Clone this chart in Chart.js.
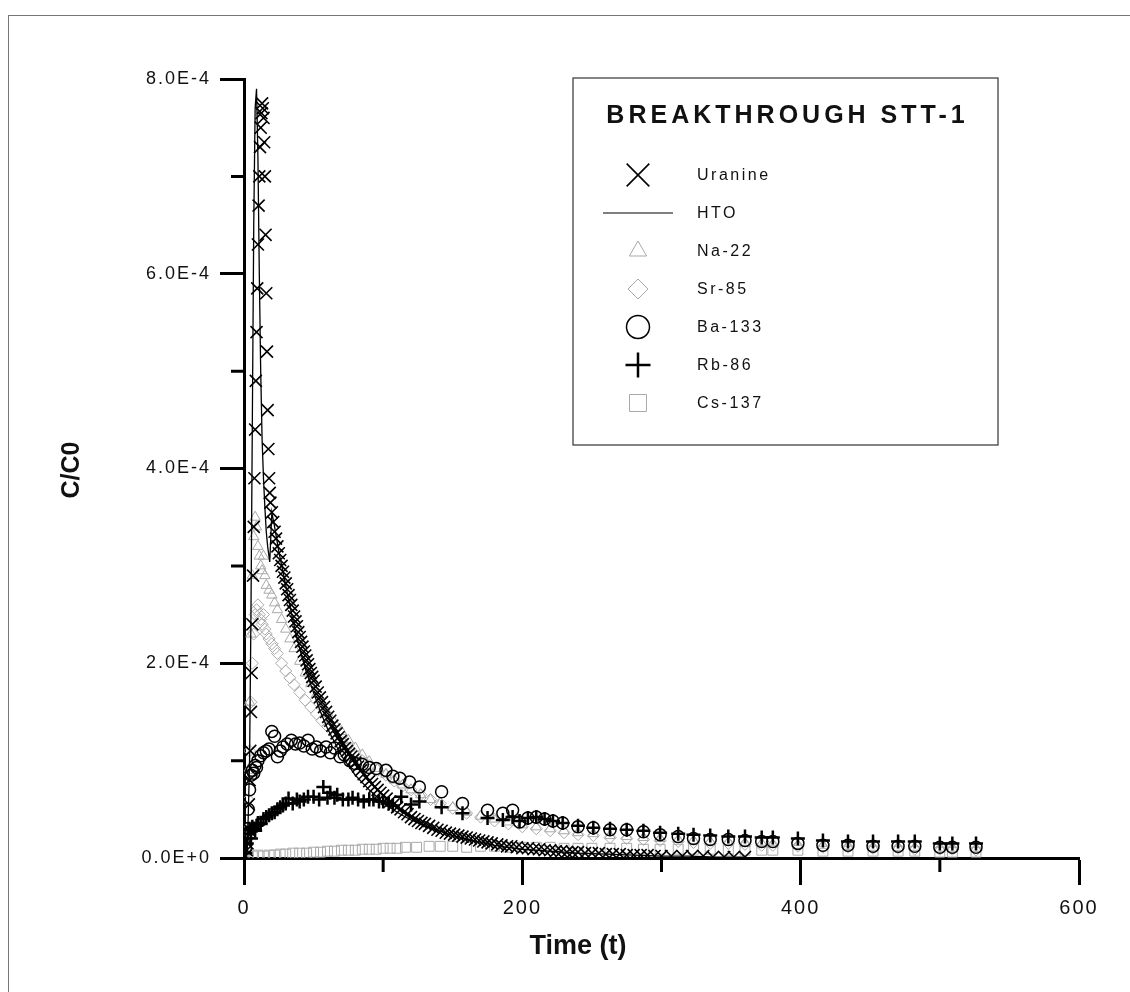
<!DOCTYPE html>
<html>
<head>
<meta charset="utf-8">
<title>Breakthrough STT-1</title>
<script src="https://cdn.jsdelivr.net/npm/chart.js@4.4.1/dist/chart.umd.min.js"></script>
<style>
  html, body { margin: 0; padding: 0; background: #fff; }
  #wrap { position: relative; width: 1130px; height: 992px; overflow: hidden; }
  #frame { position: absolute; left: 8px; top: 15px; width: 1140px; height: 1000px; border-top: 1px solid #777; border-left: 1px solid #777; }
  .axis-title { position: absolute; font-family: 'Liberation Sans', Arial, sans-serif; font-weight: bold; color: #111; white-space: nowrap; }
  #ytitle { left: 70px; top: 470px; font-size: 25px; transform: translate(-50%, -50%) rotate(-90deg); }
  #xtitle { left: 578px; top: 945px; font-size: 27px; transform: translate(-50%, -50%); }
</style>
</head>
<body>
<div id="wrap">
  <div id="frame"></div>
  <canvas id="stt1"></canvas>
  <div class="axis-title" id="ytitle">C/C0</div>
  <div class="axis-title" id="xtitle">Time (t)</div>
</div>
<script>
  // values are C/C0 in units of 1E-4, time in the plot's t units
  var uranine = [[1,0.02],[2,0.08],[2.5,0.15],[3,0.3],[3.5,0.55],[4,0.8],[4.5,1.1],[5,1.5],[5.5,1.9],[6,2.4],[6.5,2.9],[7,3.4],[7.5,3.9],[8,4.4],[8.5,4.9],[9,5.4],[9.5,5.85],[10,6.3],[10.5,6.7],[11,7.0],[11.5,7.3],[12,7.5],[12.5,7.65],[13,7.75],[13.5,7.7],[14,7.6],[14.5,7.35],[15,7.0],[15.5,6.4],[16,5.8],[16.5,5.2],[17,4.6],[17.5,4.2],[18,3.9],[18.5,3.75],[19,3.65],[20,3.55],[21,3.45],[22,3.35],[23,3.28],[24,3.2],[25,3.13],[26,3.06],[27,3.0],[28,2.94],[29,2.88],[30,2.82],[31,2.76],[32,2.7],[33,2.65],[34,2.6],[35,2.54],[36,2.48],[37,2.43],[38,2.38],[39,2.32],[40,2.27],[41,2.22],[42,2.17],[43,2.12],[44,2.08],[45,2.03],[46,1.99],[47,1.94],[48,1.9],[49,1.86],[50,1.82],[51.5,1.76],[53,1.7],[54.5,1.65],[56,1.6],[57.5,1.55],[59,1.5],[60.5,1.45],[62,1.41],[63.5,1.36],[65,1.32],[66.5,1.28],[68,1.24],[69.5,1.2],[71,1.17],[72.5,1.13],[74,1.1],[75.5,1.07],[77,1.04],[78.5,1.01],[80,0.98],[82,0.94],[84,0.9],[86,0.86],[88,0.83],[90,0.79],[92,0.76],[94,0.73],[96,0.7],[98,0.67],[100,0.64],[102.5,0.61],[105,0.58],[107.5,0.55],[110,0.52],[112.5,0.5],[115,0.47],[117.5,0.45],[120,0.42],[122.5,0.4],[125,0.38],[127.5,0.36],[130,0.35],[133,0.33],[136,0.31],[139,0.29],[142,0.28],[145,0.26],[148,0.25],[151,0.24],[154,0.23],[157,0.22],[160,0.21],[163,0.2],[166,0.19],[169,0.18],[172,0.17],[175,0.16],[178,0.15],[182,0.14],[185,0.13],[189,0.12],[192,0.12],[196,0.11],[200,0.1],[204,0.1],[208,0.09],[212,0.09],[216,0.08],[220,0.08],[224,0.07],[228,0.07],[232,0.06],[236,0.06],[240,0.06],[245,0.05],[250,0.05],[255,0.05],[260,0.04],[265,0.04],[270,0.04],[275,0.03],[280,0.03],[285,0.03],[290,0.03],[295,0.02],[300,0.02],[307,0.02],[315,0.02],[322,0.02],[330,0.02],[337,0.01],[345,0.01],[352,0.01],[360,0.01]];

  var hto = [[0,0],[2,0.1],[3,0.4],[4,1.0],[5,2.5],[6,4.5],[7,6.5],[8,7.7],[9,7.9],[10,7.2],[11,6.0],[12,5.0],[13,4.3],[14,3.9],[15,3.6],[16,3.35],[17,3.2],[18.5,3.04],[20,3.55],[22,3.4],[25,3.15],[30,2.8],[35,2.45],[40,2.15],[45,1.9],[50,1.7],[55,1.5],[60,1.33],[70,1.05],[80,0.85],[90,0.7],[100,0.57],[110,0.47],[120,0.39],[130,0.33],[140,0.28],[150,0.23],[160,0.19],[170,0.16],[180,0.13],[190,0.11],[200,0.09],[220,0.07],[240,0.05],[260,0.04],[280,0.03],[300,0.02],[320,0.02],[340,0.01],[360,0.01]];

  var na22 = [[1,0.05],[2,0.3],[3,0.9],[4,1.6],[5,2.3],[6,2.9],[7,3.3],[8,3.5],[9,3.4],[10,3.2],[11,3.1],[12,3.0],[13,2.95],[14,3.1],[15,2.9],[16,2.8],[18,2.75],[20,2.7],[22,2.62],[24,2.55],[27,2.45],[30,2.35],[33,2.25],[36,2.15],[40,2.02],[44,1.9],[48,1.79],[52,1.68],[56,1.58],[60,1.49],[65,1.39],[70,1.3],[75,1.21],[80,1.13],[85,1.06],[90,0.99],[96,0.92],[102,0.86],[108,0.8],[114,0.75],[120,0.7],[127,0.65],[134,0.6],[141,0.56],[150,0.52],[160,0.47],[170,0.43],[180,0.4],[190,0.37],[200,0.34],[210,0.32],[220,0.3],[230,0.28],[240,0.26],[251,0.25],[263,0.23],[275,0.22],[287,0.21],[299,0.2],[312,0.19],[323,0.18],[335,0.17],[348,0.16],[360,0.15],[372,0.15],[380,0.14],[398,0.13],[416,0.13],[434,0.12],[452,0.11],[470,0.11],[482,0.11],[500,0.1],[509,0.1],[526,0.1]];

  var sr85 = [[2,0.2],[3,0.6],[4,1.1],[5,1.6],[6,2.0],[7,2.3],[8,2.5],[9,2.55],[10,2.6],[11,2.5],[12,2.45],[13,2.4],[14,2.5],[15,2.35],[16,2.3],[18,2.25],[20,2.2],[22,2.15],[24,2.1],[27,2.0],[30,1.92],[33,1.85],[36,1.78],[40,1.7],[44,1.62],[48,1.55],[52,1.48],[56,1.41],[60,1.35],[65,1.27],[70,1.2],[75,1.13],[80,1.06],[85,1.0],[90,0.95],[96,0.9],[102,0.85],[108,0.79],[114,0.74],[120,0.7],[127,0.65],[134,0.6],[141,0.56],[150,0.51],[160,0.46],[170,0.42],[180,0.38],[190,0.35],[200,0.32],[210,0.3],[220,0.28],[230,0.26],[240,0.24],[251,0.23],[263,0.21],[275,0.2],[287,0.19],[299,0.18],[312,0.17],[323,0.16],[335,0.15],[348,0.15],[360,0.14],[372,0.13],[380,0.13],[398,0.12],[416,0.11],[434,0.11],[452,0.1],[470,0.1],[482,0.09],[500,0.09],[509,0.09],[526,0.08]];

  var ba133 = [[1,0.1],[2,0.3],[3,0.5],[4,0.7],[5,0.85],[6,0.9],[7,0.87],[8,0.95],[9,0.93],[10,1.0],[12,1.05],[14,1.08],[16,1.1],[18,1.12],[20,1.3],[22,1.25],[24,1.04],[26,1.1],[28,1.14],[31,1.17],[34,1.21],[37,1.17],[40,1.18],[43,1.15],[46,1.21],[49,1.12],[52,1.14],[55,1.1],[59,1.14],[62,1.08],[65,1.13],[69,1.04],[72,1.06],[76,1.0],[80,0.97],[85,0.96],[90,0.93],[95,0.92],[102,0.9],[107,0.84],[112,0.82],[119,0.78],[126,0.73],[142,0.68],[157,0.56],[175,0.49],[186,0.46],[193,0.49],[198,0.37],[204,0.41],[210,0.42],[216,0.4],[222,0.38],[229,0.36],[240,0.32],[251,0.31],[263,0.29],[275,0.29],[287,0.27],[299,0.24],[312,0.22],[323,0.2],[335,0.19],[348,0.19],[360,0.18],[372,0.17],[380,0.17],[398,0.15],[416,0.13],[434,0.13],[452,0.12],[470,0.12],[482,0.12],[500,0.11],[509,0.11],[526,0.11]];

  var rb86 = [[1,0.05],[2,0.15],[3,0.25],[4,0.3],[5,0.2],[6,0.32],[7,0.3],[8,0.28],[9,0.33],[10,0.36],[12,0.35],[14,0.4],[16,0.42],[18,0.44],[20,0.46],[22,0.47],[24,0.5],[26,0.52],[28,0.54],[30,0.56],[32,0.61],[35,0.56],[38,0.6],[40,0.58],[43,0.6],[46,0.63],[50,0.63],[54,0.6],[57,0.73],[60,0.62],[62,0.67],[65,0.62],[67,0.65],[71,0.6],[75,0.6],[78,0.62],[82,0.6],[86,0.58],[90,0.6],[93,0.6],[97,0.58],[100,0.58],[104,0.56],[107,0.54],[113,0.63],[120,0.55],[126,0.58],[142,0.52],[157,0.46],[175,0.41],[186,0.39],[193,0.42],[198,0.38],[204,0.41],[210,0.42],[216,0.4],[222,0.38],[229,0.36],[240,0.33],[251,0.31],[263,0.3],[275,0.29],[287,0.28],[299,0.26],[312,0.25],[323,0.24],[335,0.23],[348,0.22],[360,0.22],[372,0.21],[380,0.21],[398,0.2],[416,0.18],[434,0.17],[452,0.17],[470,0.17],[482,0.17],[500,0.15],[509,0.15],[526,0.15]];

  var cs137 = [[0,0.0],[3,0.02],[6,0.02],[10,0.03],[14,0.02],[18,0.03],[22,0.03],[26,0.04],[30,0.04],[35,0.05],[40,0.05],[45,0.05],[50,0.06],[55,0.06],[60,0.07],[65,0.07],[70,0.08],[75,0.08],[80,0.08],[85,0.09],[90,0.09],[95,0.09],[100,0.1],[105,0.1],[110,0.1],[116,0.11],[124,0.11],[133,0.12],[141,0.12],[150,0.12],[160,0.11],[170,0.12],[180,0.12],[190,0.11],[200,0.11],[210,0.11],[220,0.11],[230,0.1],[240,0.1],[250,0.1],[263,0.1],[275,0.1],[287,0.09],[299,0.09],[312,0.09],[323,0.09],[335,0.09],[348,0.08],[360,0.08],[372,0.08],[380,0.08],[398,0.08],[416,0.07],[434,0.07],[452,0.07],[470,0.07],[482,0.07],[500,0.06],[509,0.06],[526,0.06]];

  var seriesNames = ['Uranine', 'HTO', 'Na-22', 'Sr-85', 'Ba-133', 'Rb-86', 'Cs-137'];
  var yTickLabels = ['0.0E+0', '', '2.0E-4', '', '4.0E-4', '', '6.0E-4', '', '8.0E-4'];
  var xTickLabels = ['0', '', '200', '', '400', '', '600'];
  var legendTitle = 'BREAKTHROUGH STT-1';

  var FONT = "'Liberation Sans', Arial, sans-serif";
  var GREY = '#a9a9a9';

  function toPoints(pairs) {
    return pairs.map(function (p) { return { x: p[0], y: p[1] }; });
  }

  function markerSet(label, pairs, style, color, radius, width, order, legendRadius) {
    return {
      label: label,
      data: toPoints(pairs),
      pointStyle: style,
      pointRadius: radius,
      pointBorderWidth: width,
      borderColor: color,
      backgroundColor: 'rgba(0,0,0,0)',
      showLine: false,
      order: order,
      legendRadius: legendRadius
    };
  }

  // short unlabelled ticks + tick-label letter spacing
  var minorTicks = {
    id: 'minorTicks',
    beforeDraw: function (chart) {
      chart.ctx.letterSpacing = '2px';
    },
    afterDraw: function (chart) {
      var ctx = chart.ctx, xs = chart.scales.x, ys = chart.scales.y, area = chart.chartArea;
      ctx.save();
      ctx.strokeStyle = '#000';
      ctx.lineWidth = 3;
      ctx.beginPath();
      xs.ticks.forEach(function (t, i) {
        if (xTickLabels[i]) return;
        var px = xs.getPixelForValue(t.value);
        ctx.moveTo(px, area.bottom);
        ctx.lineTo(px, area.bottom + 14);
      });
      ys.ticks.forEach(function (t, i) {
        if (yTickLabels[i]) return;
        var py = ys.getPixelForValue(t.value);
        ctx.moveTo(area.left, py);
        ctx.lineTo(area.left - 13, py);
      });
      ctx.stroke();
      ctx.restore();
    }
  };

  var boxLegend = {
    id: 'boxLegend',
    afterDraw: function (chart) {
      var ctx = chart.ctx;
      var box = { left: 573, top: 78, right: 998, bottom: 445 };
      ctx.save();
      ctx.strokeStyle = '#333';
      ctx.lineWidth = 1.2;
      ctx.strokeRect(box.left, box.top, box.right - box.left, box.bottom - box.top);

      ctx.fillStyle = '#111';
      ctx.textBaseline = 'middle';
      ctx.textAlign = 'center';
      ctx.letterSpacing = '4px';
      ctx.font = 'bold 25px ' + FONT;
      ctx.fillText(legendTitle, (box.left + box.right) / 2 + 2, 116);

      ctx.textAlign = 'left';
      ctx.letterSpacing = '2.5px';
      ctx.font = '16px ' + FONT;
      chart.data.datasets.forEach(function (ds, i) {
        var y = 175 + i * 38;
        ctx.strokeStyle = ds.borderColor;
        ctx.fillStyle = 'rgba(0,0,0,0)';
        if (ds.showLine) {
          ctx.lineWidth = 1.2;
          ctx.beginPath();
          ctx.moveTo(603, y);
          ctx.lineTo(673, y);
          ctx.stroke();
        } else {
          ctx.lineWidth = ds.pointBorderWidth;
          Chart.helpers.drawPoint(ctx, {
            pointStyle: ds.pointStyle, radius: ds.legendRadius,
            rotation: 0, borderWidth: ds.pointBorderWidth
          }, 638, y);
        }
        ctx.fillStyle = '#111';
        ctx.fillText(ds.label, 697, y + 1);
      });
      ctx.restore();
    }
  };

  document.addEventListener('DOMContentLoaded', function () {
    var datasets = [
      markerSet(seriesNames[0], uranine, 'crossRot', '#000', 8.5, 1.6, 0, 16),
      {
        label: seriesNames[1],
        data: toPoints(hto),
        showLine: true,
        borderColor: '#000',
        borderWidth: 1.3,
        pointRadius: 0,
        tension: 0,
        order: 0
      },
      markerSet(seriesNames[2], na22, 'triangle', GREY, 6, 1, 3, 10),
      markerSet(seriesNames[3], sr85, 'rectRot', GREY, 6, 1, 3, 10),
      markerSet(seriesNames[4], ba133, 'circle', '#000', 6, 1.5, 1, 11.5),
      markerSet(seriesNames[5], rb86, 'cross', '#000', 7, 2.5, 1, 12.5),
      markerSet(seriesNames[6], cs137, 'rect', GREY, 7, 1, 3, 12)
    ];

    new Chart(document.getElementById('stt1'), {
      type: 'scatter',
      data: { datasets: datasets },
      options: {
        responsive: true,
        maintainAspectRatio: false,
        animation: false,
        layout: { padding: { top: 79, right: 51, left: 0, bottom: 0 } },
        plugins: {
          legend: { display: false },
          tooltip: { enabled: false }
        },
        scales: {
          x: {
            type: 'linear',
            min: 0,
            max: 600,
            afterFit: function (s) { s.height = 134; },
            border: { display: true, color: '#000', width: 3 },
            grid: {
              drawOnChartArea: false,
              tickLength: 27,
              tickWidth: 3,
              tickColor: function (c) { return xTickLabels[c.index] ? '#000' : 'rgba(0,0,0,0)'; }
            },
            ticks: {
              stepSize: 100,
              autoSkip: false,
              maxRotation: 0,
              padding: 11,
              color: '#111',
              font: { family: FONT, size: 20 },
              callback: function (v, i) { return xTickLabels[i]; }
            }
          },
          y: {
            type: 'linear',
            min: 0,
            max: 8,
            afterFit: function (s) { s.width = 244; },
            border: { display: true, color: '#000', width: 3 },
            grid: {
              drawOnChartArea: false,
              tickLength: 24,
              tickWidth: 3,
              tickColor: function (c) { return yTickLabels[c.index] ? '#000' : 'rgba(0,0,0,0)'; }
            },
            ticks: {
              stepSize: 1,
              autoSkip: false,
              padding: 9,
              color: '#111',
              font: { family: FONT, size: 18 },
              callback: function (v, i) { return yTickLabels[i]; }
            }
          }
        }
      },
      plugins: [minorTicks, boxLegend]
    });
  });
</script>
</body>
</html>
